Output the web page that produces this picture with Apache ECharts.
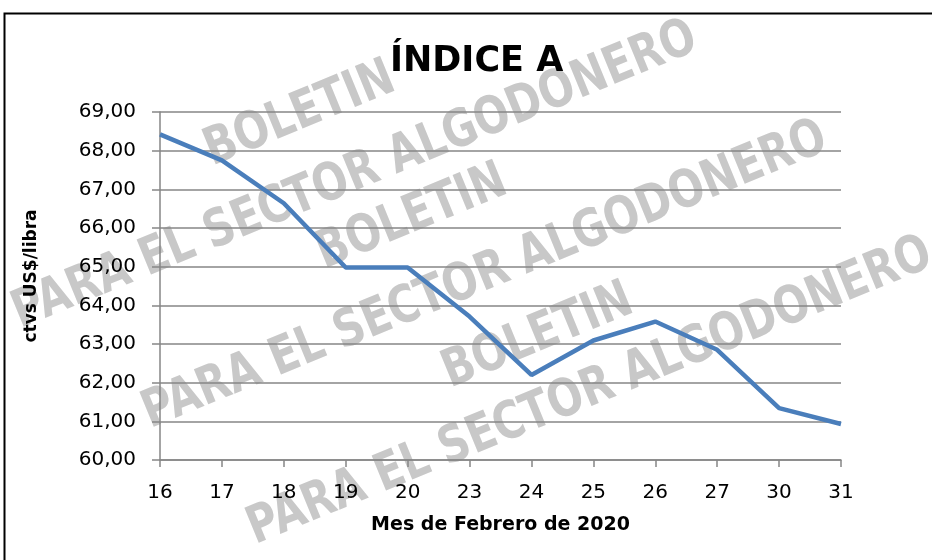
<!DOCTYPE html>
<html>
<head>
<meta charset="utf-8">
<script src="https://cdn.jsdelivr.net/npm/echarts@6/dist/echarts.min.js"></script>
<style>
html,body{margin:0;padding:0;background:#fff;}
#chart{width:932px;height:560px;}
</style>
</head>
<body>
<div id="chart"></div>
<script>
// Data
const categories = ['16','17','18','19','20','23','24','25','26','27','30','31'];
const indiceA = [68.42, 67.75, 66.64, 64.98, 64.98, 63.71, 62.20, 63.09, 63.58, 62.85, 61.34, 60.93];
const titleText = 'ÍNDICE A';
const yName = 'ctvs US$/libra';
const xName = 'Mes de Febrero de 2020';
const wmBoletin = 'BOLETIN';
const wmPara = 'PARA EL SECTOR ALGODONERO';

const chart = echarts.init(document.getElementById('chart'), null, {renderer:'canvas'});
const wmColor = '#c8c8c8';
const wmFont = 'bold 52px "DejaVu Sans"';
const wmRot = 0.39;
function wm(text, x, y){
  return {type:'text', x:x, y:y, rotation:wmRot, scaleX:0.8, scaleY:1, z:-5, silent:true,
    style:{text:text, font:wmFont, fill:wmColor, align:'center', verticalAlign:'middle'}};
}
const option = {
  animation:false,
  backgroundColor:'#fff',
  title:{
    text:titleText, left:385, top:39,
    textStyle:{fontFamily:'DejaVu Sans', fontWeight:'bold', fontSize:35, color:'#000'}
  },
  grid:{left:160, right:91, top:112, bottom:100, containLabel:false},
  xAxis:{
    type:'category', data:categories, boundaryGap:false,
    axisLine:{lineStyle:{color:'#868686', width:1.5}},
    axisTick:{show:true, length:7, lineStyle:{color:'#868686', width:1.5}},
    axisLabel:{margin:23, fontFamily:'DejaVu Sans', fontSize:20, color:'#000'},
    name:xName, nameLocation:'middle', nameGap:56,
    nameTextStyle:{fontFamily:'DejaVu Sans', fontWeight:'bold', fontSize:19, color:'#000'}
  },
  yAxis:{
    type:'value', min:60, max:69, interval:1,
    axisLine:{show:true, lineStyle:{color:'#868686', width:1.5}},
    axisTick:{show:true, length:8, lineStyle:{color:'#868686', width:1.5}},
    axisLabel:{margin:24, fontFamily:'DejaVu Sans', fontSize:20, color:'#000',
      formatter:function(v){return v.toFixed(2).replace('.',',');}},
    splitLine:{show:true, lineStyle:{color:'#868686', width:1.5}}
  },
  series:[{
    type:'line', data:indiceA, symbol:'none', smooth:false,
    lineStyle:{color:'#4A7EBB', width:4.5}, itemStyle:{color:'#4A7EBB'}
  }],
  graphic:[
    {type:'rect', z:-10, silent:true, shape:{x:4.5, y:13.5, width:1000, height:1000},
      style:{fill:'#fff', stroke:'#000', lineWidth:2}},
    wm(wmBoletin, 300, 115), wm(wmPara, 355, 176),
    wm(wmBoletin, 412, 218), wm(wmPara, 485, 276),
    wm(wmBoletin, 538, 337), wm(wmPara, 590, 392),
    {type:'text', x:32, y:276, rotation:Math.PI/2, z:5,
      style:{text:yName, font:'bold 17px "DejaVu Sans"', fill:'#000', align:'center', verticalAlign:'middle'}}
  ]
};
chart.setOption(option);
</script>
</body>
</html>
